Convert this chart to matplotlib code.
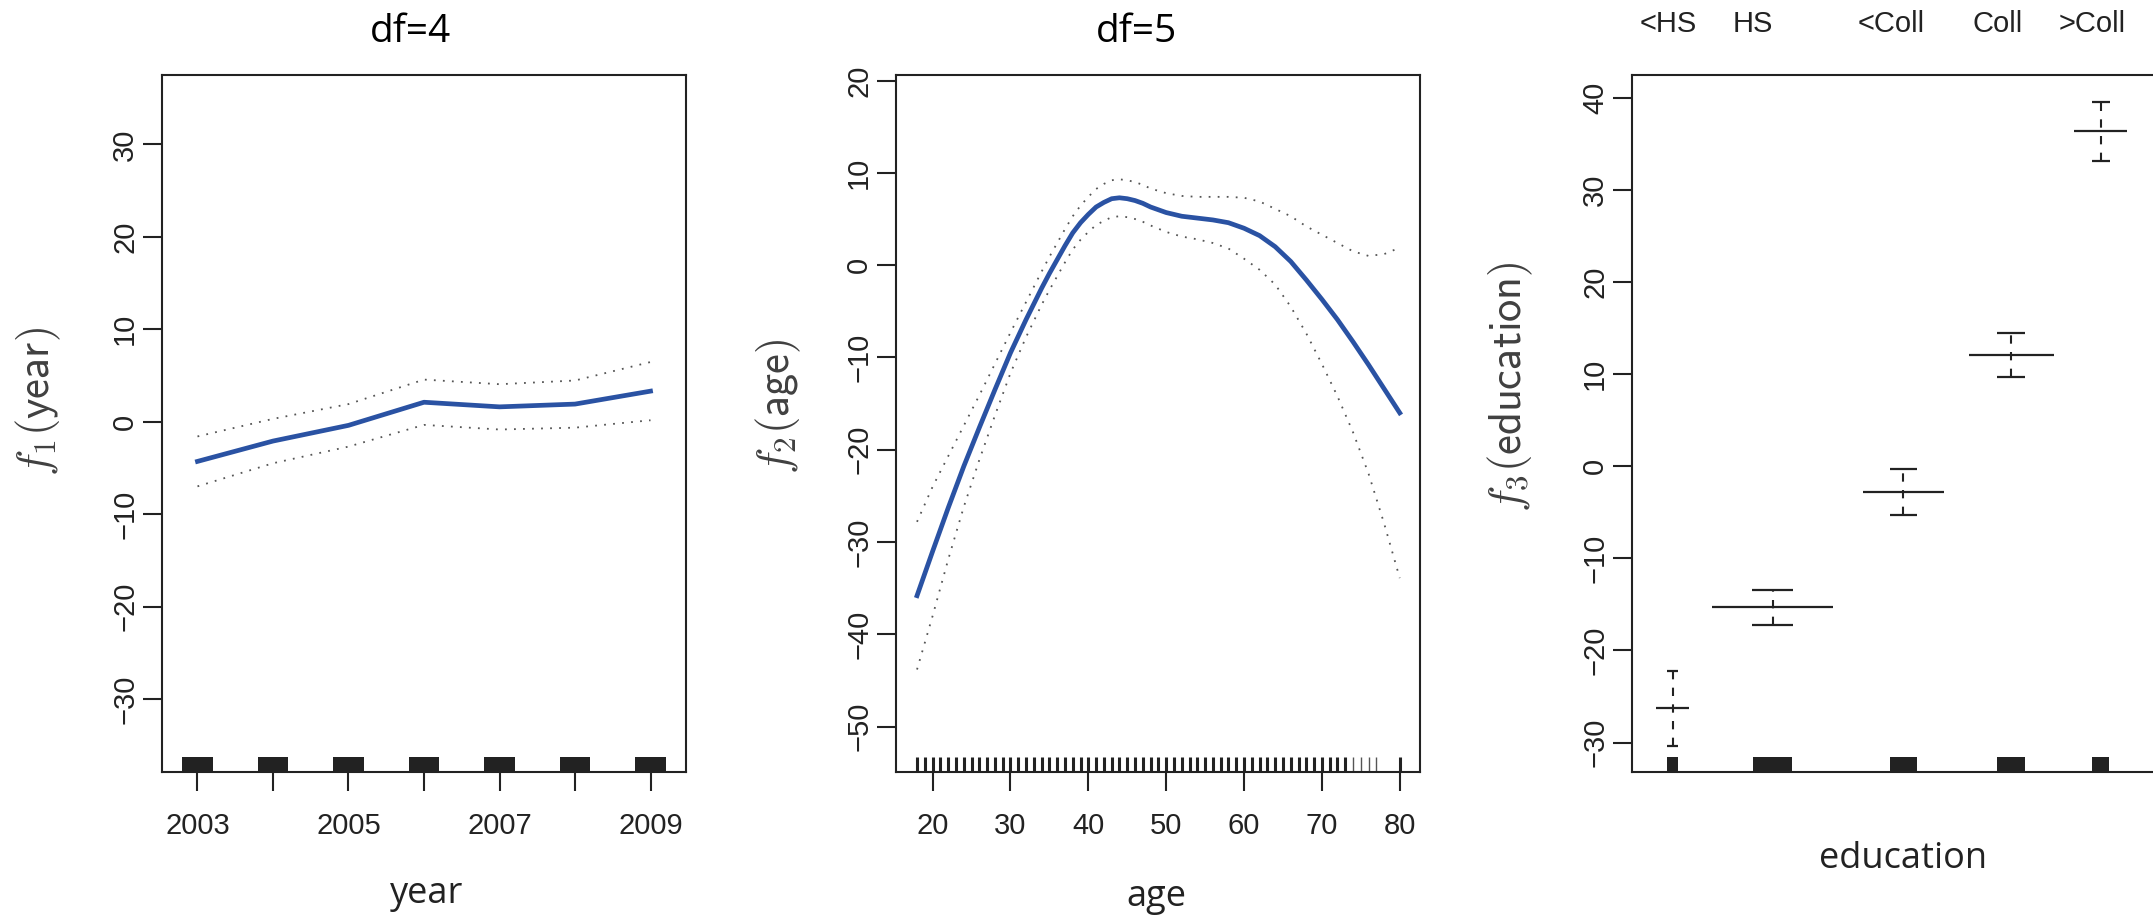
import numpy as np
import matplotlib
matplotlib.use("Agg")
import matplotlib.pyplot as plt
from matplotlib.patches import Rectangle

plt.rcParams['font.family'] = ['Liberation Sans', 'DejaVu Sans']
plt.rcParams['mathtext.fontset'] = 'cm'

# f1(year): fitted curve and half width of the band
years = [2003, 2004, 2005, 2006, 2007, 2008, 2009]
year_fit = [-4.3, -2.1, -0.4, 2.1, 1.6, 1.9, 3.3]
year_se = [2.7, 2.4, 2.3, 2.45, 2.45, 2.55, 3.15]
year_labels = ['2003', '', '2005', '', '2007', '', '2009']

# f2(age)
ages = [18, 20, 22, 24, 26, 28, 30, 32, 34, 35, 36, 37, 38, 39, 40, 41, 42,
        43, 44, 45, 46, 47, 48, 50, 52, 54, 56, 58, 60, 62, 64, 66, 68, 70,
        72, 74, 76, 78, 80]
age_fit = [-35.8, -31.0, -26.3, -21.8, -17.6, -13.5, -9.5, -5.9, -2.5, -0.9,
           0.6, 2.1, 3.5, 4.6, 5.5, 6.3, 6.8, 7.2, 7.3, 7.2, 7.0, 6.7, 6.3,
           5.7, 5.3, 5.1, 4.9, 4.6, 4.0, 3.2, 2.0, 0.4, -1.6, -3.7, -5.9,
           -8.3, -10.8, -13.4, -16.0]
age_se = [8.0, 7.0, 5.6, 4.4, 3.5, 2.8, 2.2, 1.9, 1.8, 1.8, 1.8, 1.8, 1.8,
          1.85, 1.9, 1.95, 2.0, 2.0, 2.0, 2.0, 2.0, 2.0, 2.0, 2.1, 2.2, 2.3,
          2.5, 2.8, 3.3, 3.7, 4.1, 4.9, 5.8, 7.0, 8.3, 9.8, 11.8, 14.6, 17.9]
rug_ages = list(range(18, 74))
rug_ages_sparse = [74, 75, 76, 77]
rug_ages_end = [80]

# f3(education)
edu_levels = ['<HS', 'HS', '<Coll', 'Coll', '>Coll']
edu_counts = [268, 971, 650, 685, 426]
edu_fit = [-26.3, -15.3, -2.8, 12.1, 36.4]
edu_se = [4.1, 1.9, 2.5, 2.35, 3.2]

BLUE = '#2a52a3'
DARK = '#222222'
W, H = 2153, 915
fig = plt.figure(figsize=(W / 100, H / 100), dpi=100)


def px_axes(left, top, w, h):
    return fig.add_axes([left / W, 1 - (top + h) / H, w / W, h / H])


def style(ax):
    for s in ax.spines.values():
        s.set_linewidth(1.5)
        s.set_color(DARK)
    ax.tick_params(direction='out', length=13.5, width=1.5, color=DARK,
                   labelsize=21, labelcolor=DARK)
    ax.tick_params(axis='x', pad=15)
    ax.tick_params(axis='y', labelrotation=90, pad=3)
    plt.setp(ax.get_yticklabels(), va='center')


def rug_blocks(ax, xs, widths):
    tr = ax.get_xaxis_transform()
    for x, w in zip(xs, widths):
        ax.add_patch(Rectangle((x - w / 2, 0), w, 0.022, transform=tr,
                               color=DARK, lw=0))


def fig_text(x, y, s, **kw):
    fig.text(x / W, 1 - y / H, s, ha='center', va='center', **kw)


sans = ['Open Sans', 'DejaVu Sans']

# --- year ---
ax1 = px_axes(162, 75, 524, 697)
yf = np.array(year_fit)
ys = np.array(year_se)
ax1.plot(years, yf, color=BLUE, lw=3.4)
ax1.plot(years, yf + ys, color='#555555', lw=1.3, ls=(0, (1, 4)))
ax1.plot(years, yf - ys, color='#555555', lw=1.3, ls=(0, (1, 4)))
rug_blocks(ax1, years, [0.41] * len(years))
ax1.set_xlim(2002.53, 2009.47)
ax1.set_ylim(-37.9, 37.5)
ax1.set_xticks(years)
ax1.set_xticklabels(year_labels)
ax1.set_yticks([-30, -20, -10, 0, 10, 20, 30])
style(ax1)

# --- age ---
ax2 = px_axes(896, 75, 524, 697)
af = np.array(age_fit)
se = np.array(age_se)
ax2.plot(ages, af, color=BLUE, lw=3.4, solid_joinstyle='round')
ax2.plot(ages, af + se, color='#555555', lw=1.3, ls=(0, (1, 4)))
ax2.plot(ages, af - se, color='#555555', lw=1.3, ls=(0, (1, 4)))
tr2 = ax2.get_xaxis_transform()
ax2.vlines(rug_ages, 0, 0.022, transform=tr2, color=DARK, lw=2.2)
ax2.vlines(rug_ages_sparse, 0, 0.022, transform=tr2, color='#555555', lw=1.0)
ax2.vlines(rug_ages_end, 0, 0.022, transform=tr2, color=DARK, lw=2.2)
ax2.set_xlim(15.3, 82.6)
ax2.set_ylim(-54.9, 20.6)
ax2.set_xticks([20, 30, 40, 50, 60, 70, 80])
ax2.set_yticks([-50, -40, -30, -20, -10, 0, 10, 20])
style(ax2)

# --- education: level widths follow the counts ---
ax3 = px_axes(1632, 75, 524, 697)
counts = np.array(edu_counts)
centers = np.cumsum(counts) - counts / 2
ef = np.array(edu_fit)
es = np.array(edu_se)
ax3.hlines(ef, centers - 0.385 * counts, centers + 0.385 * counts,
           color=DARK, lw=1.6)
ax3.hlines(ef + es, centers - 0.13 * counts, centers + 0.13 * counts,
           color=DARK, lw=1.6)
ax3.hlines(ef - es, centers - 0.13 * counts, centers + 0.13 * counts,
           color=DARK, lw=1.6)
ax3.vlines(centers, ef - es, ef + es, color=DARK, lw=1.5, ls=(0, (4, 4)))
rug_blocks(ax3, centers, 0.25 * counts)
ax3.set_xlim(-119, 3130)
ax3.set_ylim(-33.2, 42.5)
ax3.set_xticks([])
ax3.set_yticks([-30, -20, -10, 0, 10, 20, 30, 40])
style(ax3)

# level names above the panel
label_px = [1668, 1753, 1891, 1998, 2092]
for name, x in zip(edu_levels, label_px):
    fig_text(x, 24, name, fontsize=21, color=DARK)

# titles and axis labels
fig_text(410, 32, 'df=4', fontsize=28, family=sans)
fig_text(1137, 32, 'df=5', fontsize=28, family=sans)
fig_text(427, 894, 'year', fontsize=26, family=sans, color='#222222')
fig_text(1156, 897, 'age', fontsize=26, family=sans, color='#222222')
fig_text(1903, 859, 'education', fontsize=26, family=sans, color='#222222')
fig_text(38, 402, r'$f_1(\mathsf{year})$', fontsize=32, rotation=90,
         color='#404040')
fig_text(778, 406, r'$f_2(\mathsf{age})$', fontsize=32, rotation=90,
         color='#404040')
fig_text(1510, 387, r'$f_3(\mathsf{education})$', fontsize=32, rotation=90,
         color='#404040')

fig.savefig('out.png', dpi=100)
